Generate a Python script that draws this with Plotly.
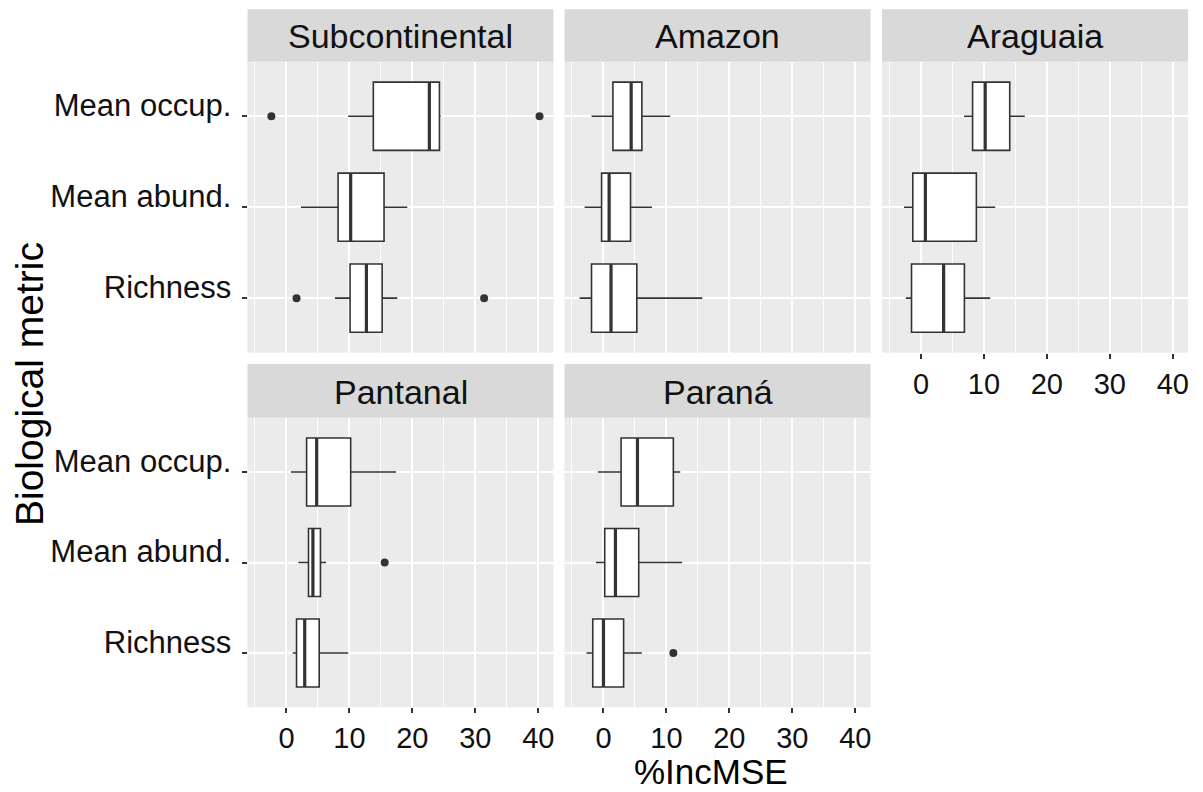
import plotly.graph_objects as go

# ---- data -------------------------------------------------------------
regions = ["Subcontinental", "Amazon", "Araguaia", "Pantanal", "Paraná"]
metrics = ["Richness", "Mean abund.", "Mean occup."]

# per region, per metric (Richness, Mean abund., Mean occup.)
whisker_low = [
    [7.7, 2.3, 9.8],
    [-3.8, -3.0, -1.9],
    [-2.4, -2.7, 6.85],
    [1.0, 1.9, 0.7],
    [-2.7, -1.2, -0.9],
]
q1 = [
    [10.1, 8.2, 13.8],
    [-1.9, -0.3, 1.5],
    [-1.5, -1.3, 8.2],
    [1.6, 3.5, 3.2],
    [-1.7, 0.2, 2.8],
]
median = [
    [12.7, 10.2, 22.7],
    [1.2, 0.9, 4.4],
    [3.6, 0.7, 10.2],
    [2.9, 4.2, 4.8],
    [0.0, 1.9, 5.4],
]
q3 = [
    [15.2, 15.5, 24.3],
    [5.3, 4.3, 6.1],
    [6.9, 8.8, 14.1],
    [5.2, 5.4, 10.2],
    [3.2, 5.6, 11.1],
]
whisker_high = [
    [17.6, 19.2, 24.5],
    [15.7, 7.7, 10.6],
    [11.0, 11.8, 16.5],
    [9.8, 6.3, 17.4],
    [6.1, 12.5, 12.2],
]
outlier_region = ["Subcontinental", "Subcontinental", "Subcontinental", "Subcontinental",
                  "Pantanal", "Paraná"]
outlier_metric = ["Richness", "Richness", "Mean occup.", "Mean occup.",
                  "Mean abund.", "Richness"]
outlier_value = [1.6, 31.4, -2.4, 40.2, 15.6, 11.1]

x_ticks = [0, 10, 20, 30, 40]

# ---- layout geometry (pixels) ----------------------------------------
W, H = 1203, 792
col_px = [(247.5, 553.5), (564.5, 870.5), (882.0, 1188.0)]
row_panel_px = [(61.7, 352.7), (417.7, 707.3)]
row_strip_px = [(9.3, 61.7), (364.0, 417.7)]
cell = [(0, 0), (0, 1), (0, 2), (1, 0), (1, 1)]

x_range = [-6.19, 42.42]
y_range = [0.4, 3.6]
box_width = 0.75

INK = "#333333"
TEXT = "#111111"
FONT = "Liberation Sans, Arial, sans-serif"


def fx(px):
    return px / W


def fy(px):
    return 1 - px / H


metric_pos = {m: i + 1 for i, m in enumerate(metrics)}

fig = go.Figure()
layout = {}
shapes = []
annotations = []

for k, region in enumerate(regions):
    r, c = cell[k]
    n = k + 1
    xa = "x" if n == 1 else f"x{n}"
    ya = "y" if n == 1 else f"y{n}"
    pos = [metric_pos[m] for m in metrics]

    fig.add_trace(go.Box(
        orientation="h",
        y=pos,
        q1=q1[k], median=median[k], q3=q3[k],
        lowerfence=whisker_low[k], upperfence=whisker_high[k],
        width=box_width,
        fillcolor="white",
        line=dict(color=INK, width=1.6),
        whiskerwidth=0,
        boxpoints=False,
        showlegend=False,
        hoverinfo="skip",
        xaxis=xa, yaxis=ya,
    ))

    # thicker median bars
    mx, my = [], []
    for p, m in zip(pos, median[k]):
        mx += [m, m, None]
        my += [p - box_width / 2, p + box_width / 2, None]
    fig.add_trace(go.Scatter(
        x=mx, y=my, mode="lines",
        line=dict(color=INK, width=3.2),
        showlegend=False, hoverinfo="skip",
        xaxis=xa, yaxis=ya,
    ))

    # outliers
    ox = [v for rg, v in zip(outlier_region, outlier_value) if rg == region]
    oy = [metric_pos[m] for rg, m in zip(outlier_region, outlier_metric) if rg == region]
    if ox:
        fig.add_trace(go.Scatter(
            x=ox, y=oy, mode="markers",
            marker=dict(color=INK, size=8),
            showlegend=False, hoverinfo="skip",
            xaxis=xa, yaxis=ya,
        ))

    x0, x1 = col_px[c]
    py0, py1 = row_panel_px[r]
    show_x = (r == 1) or (k == 2)
    show_y = (c == 0)

    layout["xaxis" if n == 1 else f"xaxis{n}"] = dict(
        domain=[fx(x0), fx(x1)],
        anchor=ya,
        range=x_range,
        tickvals=x_ticks,
        ticktext=[str(t) for t in x_ticks],
        showticklabels=show_x,
        ticks="outside" if show_x else "",
        ticklen=5, tickwidth=1.5, tickcolor=INK,
        tickfont=dict(family=FONT, size=29, color=TEXT),
        showgrid=True, gridcolor="white", gridwidth=2,
        minor=dict(dtick=5, tick0=-5, showgrid=True, gridcolor="white", gridwidth=1),
        zeroline=False, showline=False,
        fixedrange=True,
    )
    layout["yaxis" if n == 1 else f"yaxis{n}"] = dict(
        domain=[fy(py1), fy(py0)],
        anchor=xa,
        range=y_range,
        tickvals=[1, 2, 3],
        ticktext=metrics,
        showticklabels=show_y,
        ticks="outside" if show_y else "",
        ticklen=5, tickwidth=1.5, tickcolor=INK,
        ticklabelstandoff=4,
        ticklabelshift=-11,
        tickfont=dict(family=FONT, size=31, color=TEXT),
        showgrid=True, gridcolor="white", gridwidth=2,
        zeroline=False, showline=False,
        fixedrange=True,
    )

    # facet strip
    s0, s1 = row_strip_px[r]
    shapes.append(dict(
        type="rect", xref="paper", yref="paper",
        x0=fx(x0), x1=fx(x1), y0=fy(s1), y1=fy(s0),
        fillcolor="#d9d9d9", line=dict(width=0), layer="below",
    ))
    annotations.append(dict(
        text=region, xref="paper", yref="paper",
        x=fx((x0 + x1) / 2), y=fy((s0 + s1) / 2 + 1),
        xanchor="center", yanchor="middle", showarrow=False,
        font=dict(family=FONT, size=34, color=TEXT),
    ))

annotations.append(dict(
    text="%IncMSE", xref="paper", yref="paper",
    x=fx(711), y=0, borderpad=0,
    xanchor="center", yanchor="bottom", showarrow=False,
    font=dict(family=FONT, size=35, color="black"),
))
annotations.append(dict(
    text="Biological metric", xref="paper", yref="paper",
    x=fx(29), y=fy(384), textangle=-90,
    xanchor="center", yanchor="middle", showarrow=False,
    font=dict(family=FONT, size=39, color="black"),
))

fig.update_layout(
    width=W, height=H,
    margin=dict(l=0, r=0, t=0, b=0),
    paper_bgcolor="white",
    plot_bgcolor="#ebebeb",
    boxmode="overlay",
    shapes=shapes,
    annotations=annotations,
    **layout,
)

fig.write_html("out.html")
